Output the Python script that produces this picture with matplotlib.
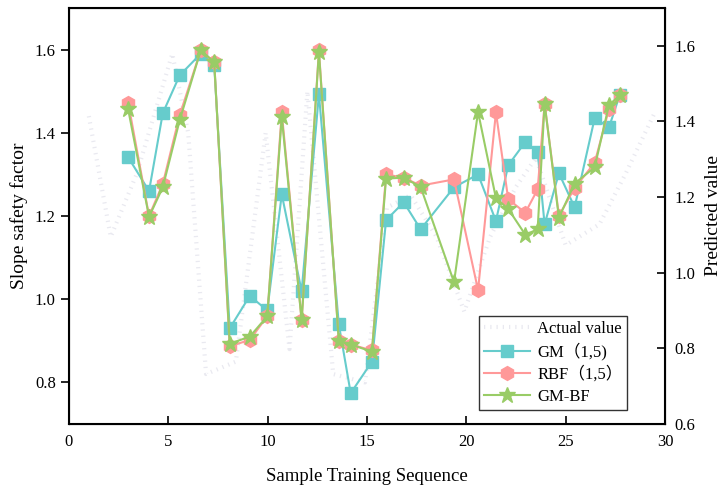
import matplotlib
matplotlib.use('Agg')
import matplotlib.pyplot as plt

plt.rcParams['font.family'] = ['Liberation Serif', 'Noto Sans CJK SC']
plt.rcParams['mathtext.fontset'] = 'stix'

# positions des échantillons
seq = [2.98, 4.03, 4.72, 5.57, 6.63, 7.31, 8.09, 9.10, 9.98, 10.71,
       11.71, 12.58, 13.58, 14.18, 15.25, 15.96, 16.85, 17.70, 19.38, 20.59,
       21.49, 22.11, 22.97, 23.59, 23.94, 24.66, 25.45, 26.46, 27.18, 27.73]

gm = [1.341, 1.260, 1.447, 1.538, 1.590, 1.562, 0.930, 1.008, 0.973, 1.252,
      1.019, 1.493, 0.940, 0.774, 0.850, 1.190, 1.233, 1.168, 1.269, 1.300,
      1.188, 1.322, 1.378, 1.353, 1.180, 1.303, 1.221, 1.435, 1.413, 1.492]

rbf = [1.472, 1.200, 1.277, 1.442, 1.598, 1.570, 0.887, 0.902, 0.959, 1.449,
       0.949, 1.598, 0.900, 0.891, 0.877, 1.300, 1.292, 1.273, 1.288, 1.022,
       1.449, 1.240, 1.208, 1.264, 1.470, 1.201, 1.267, 1.328, 1.457, 1.490]

gmbf = [1.456, 1.198, 1.269, 1.430, 1.598, 1.570, 0.893, 0.910, 0.959, 1.438,
        0.949, 1.594, 0.900, 0.891, 0.874, 1.290, 1.292, 1.270, 1.041, 1.450,
        1.243, 1.217, 1.155, 1.168, 1.470, 1.196, 1.278, 1.317, 1.467, 1.490]

# valeur réelle (courbe pointillée très pâle)
act_x = [1.0, 2.1, 3.4, 5.2, 6.0, 6.9, 8.4, 9.9, 11.1, 12.0, 13.3, 14.9,
         16.0, 17.2, 18.5, 19.9, 21.2, 22.5, 23.5, 25.0, 26.7, 28.0, 29.5]
act_y = [1.44, 1.15, 1.30, 1.59, 1.40, 0.82, 0.85, 1.40, 0.88, 1.50, 0.82, 0.80,
         1.22, 1.25, 1.15, 0.97, 1.15, 1.27, 1.34, 1.13, 1.18, 1.30, 1.45]

fig = plt.figure(figsize=(7.24, 4.90), dpi=100)
ax = fig.add_axes([0.0953, 0.1347, 0.8232, 0.849])

ax.plot(act_x, act_y, color='#e9e9f0', lw=3, ls=(0, (0.3, 1.2)), label='Actual value', zorder=1)
ax.plot(seq, gm, color='#66cccc', lw=1.5, marker='s', ms=8, label='GM（1,5)', zorder=2)
ax.plot(seq, rbf, color='#ff9999', lw=1.5, marker='h', ms=10, label='RBF（1,5）', zorder=3)
ax.plot(seq, gmbf, color='#99cc66', lw=1.5, marker='*', ms=12, label='GM-BF', zorder=4)

ax.set_xlim(0, 30)
ax.set_ylim(0.7, 1.7)
ax.set_xticks([0, 5, 10, 15, 20, 25, 30])
ax.set_yticks([0.8, 1.0, 1.2, 1.4, 1.6])
ax.set_yticklabels(['0.8', '1.0', '1.2', '1.4', '1.6'])
ax.tick_params(axis='x', direction='in', length=6, width=1.2, labelsize=12, pad=7)
ax.tick_params(axis='y', direction='out', length=6, width=1.2, labelsize=12)
ax.set_xlabel('Sample Training Sequence', fontsize=13.5, labelpad=13)
ax.set_ylabel('Slope safety factor', fontsize=14, labelpad=5)
for s in ax.spines.values():
    s.set_linewidth(1.5)

ax2 = ax.twinx()
ax2.set_ylim(0.6, 1.7)
ax2.set_yticks([0.6, 0.8, 1.0, 1.2, 1.4, 1.6])
ax2.tick_params(axis='y', direction='in', length=6, width=1.2, labelsize=12, pad=7)
ax2.set_ylabel('Predicted value', fontsize=14, labelpad=7)

leg = ax.legend(loc='lower right', bbox_to_anchor=(0.937, 0.034), borderaxespad=0,
                fontsize=12, frameon=True, fancybox=False, edgecolor='black',
                handlelength=2.8, labelspacing=0.35, borderpad=0.3, handletextpad=0.4)
leg.get_frame().set_linewidth(1.0)

fig.savefig('out.png', dpi=100)
